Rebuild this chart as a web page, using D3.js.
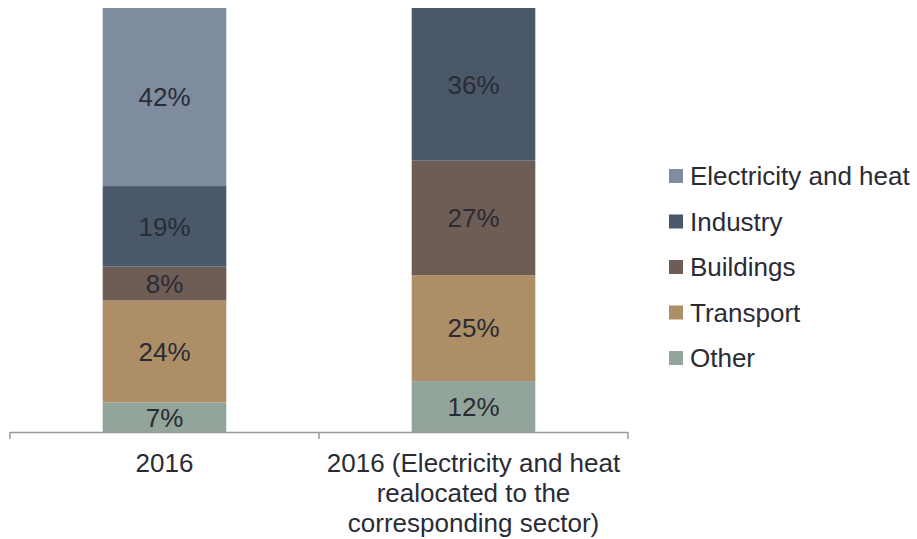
<!DOCTYPE html>
<html>
<head>
<meta charset="utf-8">
<script src="https://cdn.jsdelivr.net/npm/d3@7"></script>
<style>
  html, body { margin: 0; padding: 0; background: #fff; }
  svg { display: block; font-family: "Liberation Sans", Arial, sans-serif; }
</style>
</head>
<body>
<svg id="chart" width="917" height="539"></svg>
<script>
// Categories (bars) and their multi-line axis labels
const categories = ["2016", "2016 realocated"];
const categoryLabels = [
  ["2016"],
  ["2016 (Electricity and heat", "realocated to the", "corresponding sector)"]
];

// Sectors, bottom to top in the stack
const sectors = ["Other", "Transport", "Buildings", "Industry", "Electricity and heat"];

// Share of emissions (%) per sector, one value per category
const other       = [7, 12];
const transport   = [24, 25];
const buildings   = [8, 27];
const industry    = [19, 36];
const electricity = [42, 0];

// Legend order (top to bottom)
const legendOrder = ["Electricity and heat", "Industry", "Buildings", "Transport", "Other"];

const colors = {
  "Electricity and heat": "#7f8b9e",
  "Industry": "#4b586a",
  "Buildings": "#6e5d55",
  "Transport": "#ad8e66",
  "Other": "#93a49a"
};

const seriesValues = {
  "Other": other,
  "Transport": transport,
  "Buildings": buildings,
  "Industry": industry,
  "Electricity and heat": electricity
};

const rows = categories.map((c, i) => {
  const r = { category: c };
  sectors.forEach(s => { r[s] = seriesValues[s][i]; });
  return r;
});

const svg = d3.select("#chart");
const textColor = "#2a2b35";
const fontSize = 26;

const x = d3.scaleBand()
  .domain(categories)
  .range([10, 628])
  .paddingInner(0.6)
  .paddingOuter(0.3);

const y = d3.scaleLinear()
  .domain([0, 100])
  .range([432, 8]);

const stack = d3.stack().keys(sectors);
const series = stack(rows);

const groups = svg.append("g").selectAll("g")
  .data(series)
  .join("g")
  .attr("fill", d => colors[d.key]);

groups.selectAll("rect")
  .data(d => d.map(p => ({ key: d.key, p })))
  .join("rect")
  .attr("x", d => x(d.p.data.category))
  .attr("width", x.bandwidth())
  .attr("y", d => y(d.p[1]))
  .attr("height", d => y(d.p[0]) - y(d.p[1]));

// Value labels inside segments
const labels = [];
series.forEach(s => {
  s.forEach(p => {
    const v = p[1] - p[0];
    if (v > 0) labels.push({ v, cx: x(p.data.category) + x.bandwidth() / 2, cy: (y(p[0]) + y(p[1])) / 2 });
  });
});

svg.append("g").selectAll("text")
  .data(labels)
  .join("text")
  .attr("x", d => d.cx)
  .attr("y", d => d.cy)
  .attr("dy", "0.36em")
  .attr("text-anchor", "middle")
  .attr("font-size", fontSize)
  .attr("fill", textColor)
  .text(d => d.v + "%");

// Category axis: baseline with tick marks at band boundaries
const axisG = svg.append("g");
axisG.append("line")
  .attr("x1", 10).attr("x2", 628)
  .attr("y1", 432.5).attr("y2", 432.5)
  .attr("stroke", "#9a9a9a").attr("stroke-width", 1.5);

const edges = [10, (x(categories[0]) + x.bandwidth() + x(categories[1])) / 2, 628];
axisG.selectAll("line.tick")
  .data(edges)
  .join("line")
  .attr("class", "tick")
  .attr("x1", d => d).attr("x2", d => d)
  .attr("y1", 432).attr("y2", 439)
  .attr("stroke", "#9a9a9a").attr("stroke-width", 1.5);

const catText = axisG.selectAll("text.cat")
  .data(categories)
  .join("text")
  .attr("class", "cat")
  .attr("text-anchor", "middle")
  .attr("font-size", fontSize)
  .attr("fill", textColor)
  .attr("x", d => x(d) + x.bandwidth() / 2)
  .attr("y", 472);

catText.each(function(d, i) {
  const t = d3.select(this);
  categoryLabels[i].forEach((line, j) => {
    t.append("tspan")
      .attr("x", x(d) + x.bandwidth() / 2)
      .attr("dy", j === 0 ? 0 : 30)
      .text(line);
  });
});

// Legend
const legend = svg.append("g")
  .selectAll("g")
  .data(legendOrder)
  .join("g")
  .attr("transform", (d, i) => `translate(669, ${176 + i * 45.5})`);

legend.append("rect")
  .attr("x", 0).attr("y", -7)
  .attr("width", 14).attr("height", 14)
  .attr("fill", d => colors[d]);

legend.append("text")
  .attr("x", 21)
  .attr("y", 0)
  .attr("dy", "0.36em")
  .attr("font-size", fontSize)
  .attr("fill", textColor)
  .text(d => d);
</script>
</body>
</html>
